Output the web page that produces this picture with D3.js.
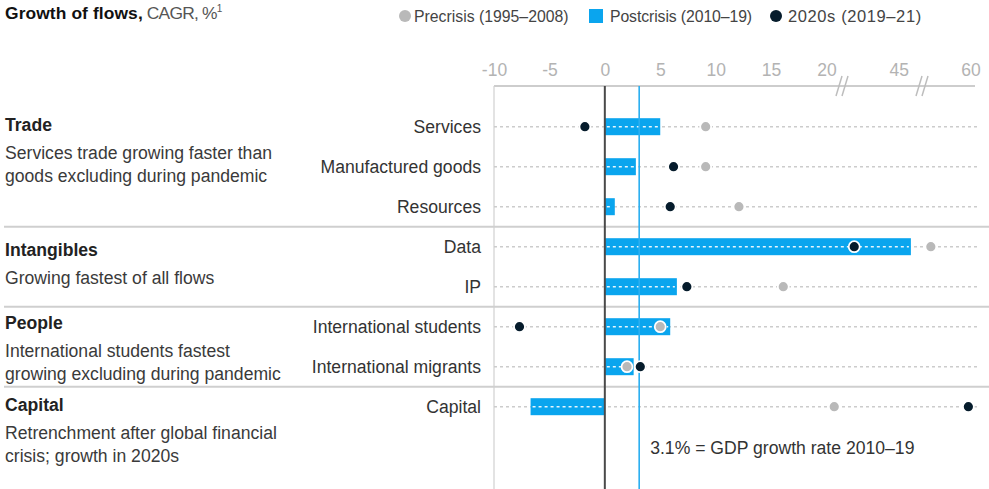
<!DOCTYPE html>
<html><head><meta charset="utf-8">
<script src="https://cdn.jsdelivr.net/npm/d3@7"></script>
<style>
body{margin:0;background:#fff;}
svg text{font-family:"Liberation Sans",Arial,sans-serif;}
</style></head><body>
<svg id="chart" width="989" height="489"></svg>
<script>
// Compound annual growth of global flows, by flow and period
const categories = ["Services","Manufactured goods","Resources","Data","IP","International students","International migrants","Capital"];
const precrisis  = [9.1, 9.1, 12.1, 56.4, 16.1, 5.0, 2.0, 20.7];
const postcrisis = [5.0, 2.8, 0.9, 46.1, 6.5, 5.9, 2.6, -6.7];
const recent     = [-1.8, 6.2, 5.9, 41.0, 7.4, -7.7, 3.2, 59.8];

const groups = ["Trade","Intangibles","People","Capital"];
const groupSizes = [3, 2, 2, 1];
const groupNotes = [
  ["Services trade growing faster than","goods excluding during pandemic"],
  ["Growing fastest of all flows"],
  ["International students fastest","growing excluding during pandemic"],
  ["Retrenchment after global financial","crisis; growth in 2020s"]
];
const tickValues = [-10, -5, 0, 5, 10, 15, 20, 45, 60];
const legendLabels = ["Precrisis (1995\u20132008)","Postcrisis (2010\u201319)","2020s (2019\u201321)"];
const gdpRate = 3.1;

const C = {blue:"#0aa5ee", navy:"#061c2c", gray:"#b9b9b9", text:"#333", rule:"#cfcfcf"};
const FS = 17.6;
// vertical nudge of each group title relative to its first row
const titleShift = [-2, 3, -4, -2];

const svg = d3.select("#chart");
const W = 989, H = 489;
const axisY = 86;

// Broken axis: linear to ~21, then a slice around 45, then a slice ending at 60
const x = d3.scaleLinear()
  .domain([-10, 21.4, 39.9, 47.1, 55.6, 60.4])
  .range([494, 842, 842, 922, 922, 975]);
const breaks = [842, 922];

const y = d3.scalePoint().domain(categories).range([126.7, 406.7]);

// Header
const head = svg.append("text").attr("x", 5).attr("y", 19).attr("font-size", 17.4).attr("fill", "#111");
head.append("tspan").attr("font-weight", "bold").attr("letter-spacing", "0.1").text("Growth of flows,");
head.append("tspan").attr("fill", "#555").attr("letter-spacing", "-0.8").text(" CAGR, %");
head.append("tspan").attr("fill", "#555").attr("font-size", 10).attr("dy", -7).text("1");

// Legend
const lg = svg.append("g").attr("font-size", 15.8).attr("fill", "#444");
lg.append("circle").attr("cx", 405).attr("cy", 16).attr("r", 6).attr("fill", C.gray);
lg.append("text").attr("x", 414).attr("y", 21.5).text(legendLabels[0]);
lg.append("rect").attr("x", 589).attr("y", 9).attr("width", 14).attr("height", 14).attr("fill", C.blue);
lg.append("text").attr("x", 610).attr("y", 21.5).attr("letter-spacing", "-0.1").text(legendLabels[1]);
lg.append("circle").attr("cx", 776).attr("cy", 16).attr("r", 6).attr("fill", C.navy);
lg.append("text").attr("x", 788).attr("y", 21.5).attr("font-size", 16.5).attr("letter-spacing", "0.6").text(legendLabels[2]);

// Axis tick labels
const axis = d3.axisTop(x).tickValues(tickValues).tickSize(0).tickPadding(10).tickFormat(d => d < 0 ? "-" + Math.abs(d) : d);
const ag = svg.append("g").attr("transform", `translate(0,${axisY})`).call(axis);
ag.select(".domain").remove();
ag.selectAll("text").attr("font-size", 17.5).attr("fill", "#b3b3b3").style("font-family", "'Liberation Sans', Arial, sans-serif");

// Axis line with break marks
svg.append("line").attr("x1", x(-10)).attr("x2", x.range()[5]).attr("y1", axisY).attr("y2", axisY)
  .attr("stroke", "#bdbdbd").attr("stroke-width", 1.5);
breaks.forEach(bx => {
  [-3, 3].forEach(o => {
    svg.append("line").attr("x1", bx + o - 3).attr("y1", axisY + 10).attr("x2", bx + o + 3).attr("y2", axisY - 10)
      .attr("stroke", "#bdbdbd").attr("stroke-width", 1.5);
  });
});

// Left frame line
svg.append("line").attr("x1", x(-10)).attr("x2", x(-10)).attr("y1", axisY).attr("y2", H)
  .attr("stroke", "#d0d0d0").attr("stroke-width", 1.2);

// Row gridlines
svg.append("g").selectAll("line").data(categories).join("line")
  .attr("x1", x(-10)).attr("x2", 977).attr("y1", d => y(d)).attr("y2", d => y(d))
  .attr("stroke", "#cccccc").attr("stroke-width", 1.5).attr("stroke-dasharray", "3,3");

// Group separators, titles and notes
let start = 0;
groups.forEach((g, gi) => {
  const first = categories[start];
  const gy = y(first) + titleShift[gi];
  if (gi > 0) {
    const sepY = (y(categories[start - 1]) + y(first)) / 2;
    svg.append("line").attr("x1", 4).attr("x2", W).attr("y1", sepY).attr("y2", sepY)
      .attr("stroke", C.rule).attr("stroke-width", 2);
  }
  svg.append("text").attr("x", 5).attr("y", gy).attr("dominant-baseline", "central")
    .attr("font-size", FS).attr("font-weight", "bold").attr("fill", "#222").text(g);
  groupNotes[gi].forEach((n, ni) => {
    svg.append("text").attr("x", 5).attr("y", gy + 28.5 + ni * 22.5).attr("dominant-baseline", "central")
      .attr("font-size", FS).attr("fill", "#3a3a3a").text(n);
  });
  start += groupSizes[gi];
});

// Row labels
svg.append("g").selectAll("text").data(categories).join("text")
  .attr("x", 481).attr("y", d => y(d)).attr("dominant-baseline", "central").attr("text-anchor", "end")
  .attr("font-size", FS).attr("fill", C.text).text(d => d);

// Postcrisis bars
const rows = categories.map((c, i) => ({c, pre: precrisis[i], post: postcrisis[i], now: recent[i]}));
const barH = 17;
svg.append("g").selectAll("rect").data(rows).join("rect")
  .attr("x", d => x(Math.min(0, d.post))).attr("width", d => Math.abs(x(d.post) - x(0)))
  .attr("y", d => y(d.c) - barH / 2).attr("height", barH).attr("fill", C.blue);
svg.append("g").selectAll("line").data(rows).join("line")
  .attr("x1", d => x(Math.min(0, d.post)) + 2).attr("x2", d => x(Math.max(0, d.post)) - 2)
  .attr("y1", d => y(d.c)).attr("y2", d => y(d.c))
  .attr("stroke", "#ffffff").attr("stroke-width", 1.5).attr("stroke-dasharray", "3,3").attr("opacity", 0.9);

// Zero line and GDP reference line
svg.append("line").attr("x1", x(0)).attr("x2", x(0)).attr("y1", axisY).attr("y2", H)
  .attr("stroke", "#4a4a4a").attr("stroke-width", 2);
svg.append("line").attr("x1", x(gdpRate)).attr("x2", x(gdpRate)).attr("y1", axisY).attr("y2", H)
  .attr("stroke", "#2aaef0").attr("stroke-width", 1.6);

// Dots
svg.append("g").selectAll("circle").data(rows).join("circle")
  .attr("cx", d => x(d.pre)).attr("cy", d => y(d.c)).attr("r", 5.5)
  .attr("fill", C.gray).attr("stroke", "#fff").attr("stroke-width", 1.8);
svg.append("g").selectAll("circle").data(rows).join("circle")
  .attr("cx", d => x(d.now)).attr("cy", d => y(d.c)).attr("r", 5.5)
  .attr("fill", C.navy).attr("stroke", "#fff").attr("stroke-width", 1.8);

// GDP annotation
svg.append("text").attr("x", x(gdpRate) + 11).attr("y", 448).attr("dominant-baseline", "central")
  .attr("font-size", FS).attr("fill", C.text).text(`${gdpRate}% = GDP growth rate 2010\u201319`);
</script>
</body></html>
